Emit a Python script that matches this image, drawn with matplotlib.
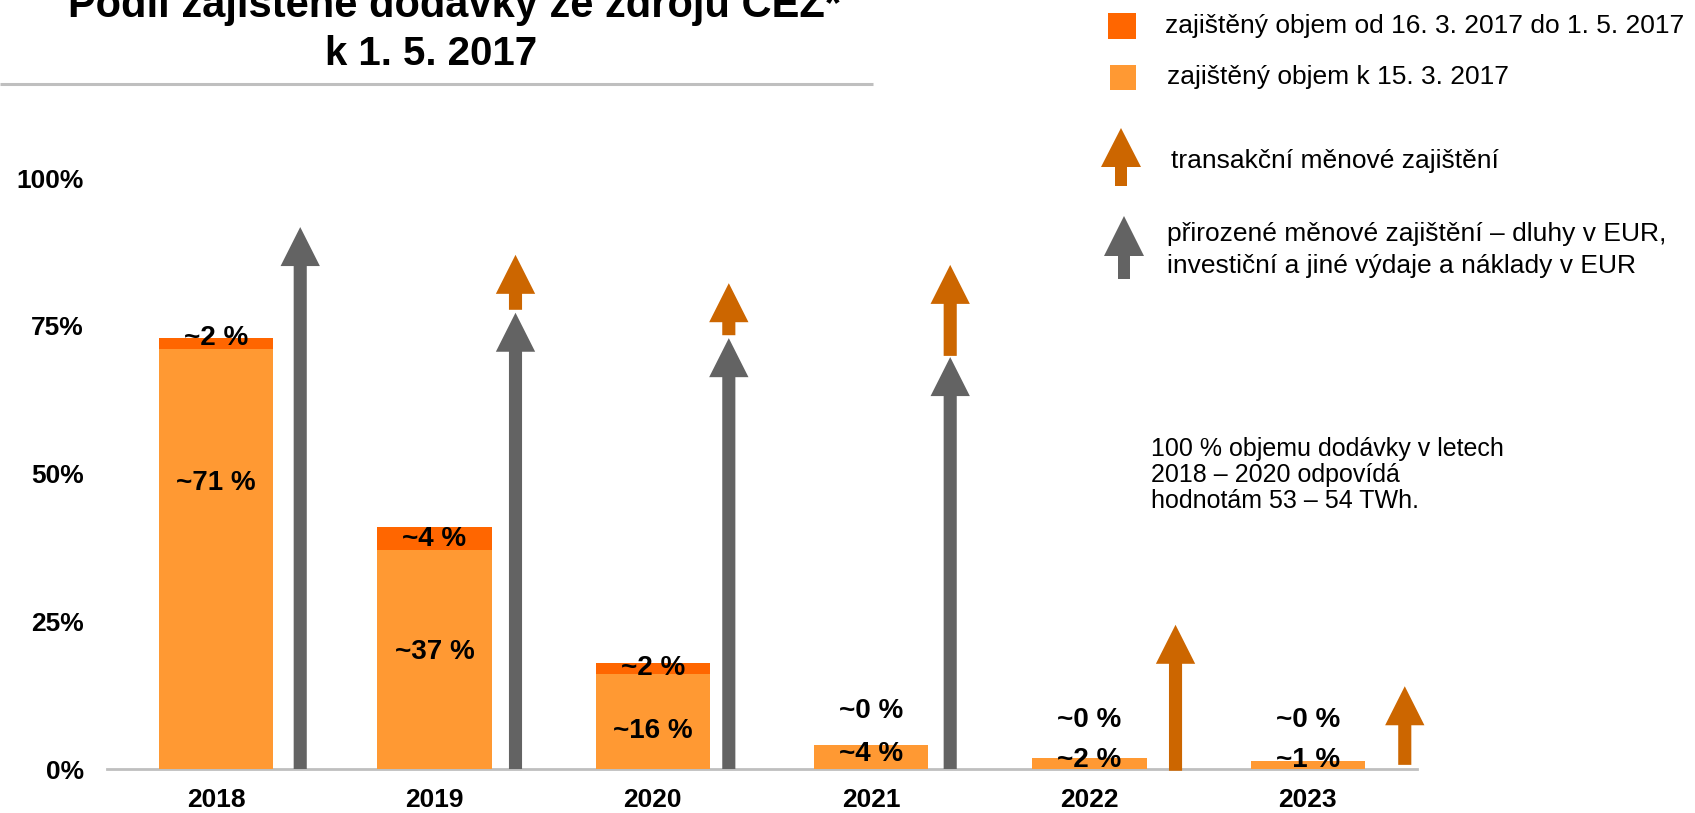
import numpy as np
import matplotlib
matplotlib.use("Agg")
import matplotlib.pyplot as plt

plt.rcParams['font.family'] = ['Liberation Sans', 'DejaVu Sans']

# data
years = ['2018', '2019', '2020', '2021', '2022', '2023']
hedged_mar15 = [71, 37, 16, 4, 1.9, 1.35]          # zajištěný objem k 15. 3. 2017
hedged_added = [2, 4, 2, 0, 0, 0]                  # od 16. 3. 2017 do 1. 5. 2017
label_base = ['~71 %', '~37 %', '~16 %', '~4 %', '~2 %', '~1 %']
label_added = ['~2 %', '~4 %', '~2 %', '~0 %', '~0 %', '~0 %']
natural_tip = [91.7, 77.2, 72.9, 69.7, np.nan, np.nan]      # gray arrows, from 0
trans_base = [np.nan, 77.7, 73.4, 69.9, -0.3, 0.7]         # orange arrows
trans_tip = [np.nan, 87.0, 82.2, 85.3, 24.4, 14.0]
yticks = [0, 25, 50, 75, 100]

# layout
label_base_y = [48.4, 19.8, 6.4, 2.6, 1.6, 1.6]
label_added_y = [72.9, 38.9, 17.1, 9.8, 8.3, 8.3]
arrow_dx = [0.385, 0.371, 0.348, 0.362, 0.394, 0.444]

c_light = '#FF9933'
c_dark = '#FF6600'
c_orange = '#CC6600'
c_gray = '#636363'
c_line = '#BFBFBF'

W, H = 1695, 813
fig = plt.figure(figsize=(W / 100, H / 100), dpi=100)


def fx(px):
    return px / W


def fy(py):
    return 1 - py / H


ax = fig.add_axes([fx(107), fy(769), (1417 - 107) / W, (769 - 178) / H])
x = np.arange(len(years))
ax.bar(x, hedged_mar15, width=0.523, color=c_light, zorder=2)
ax.bar(x, hedged_added, width=0.523, bottom=hedged_mar15, color=c_dark, zorder=2)

for i in range(len(years)):
    ax.text(x[i], label_base_y[i], label_base[i], ha='center', va='center',
            fontsize=20, fontweight='bold', zorder=5)
    ax.text(x[i], label_added_y[i], label_added[i], ha='center', va='center',
            fontsize=20, fontweight='bold', zorder=5)
    ax_x = x[i] + arrow_dx[i]
    if not np.isnan(natural_tip[i]):
        ax.arrow(ax_x, 0, 0, natural_tip[i], width=0.06, head_width=0.18,
                 head_length=6.6, length_includes_head=True, color=c_gray,
                 lw=0, zorder=3, clip_on=False)
    if not np.isnan(trans_tip[i]):
        ax.arrow(ax_x, trans_base[i], 0, trans_tip[i] - trans_base[i], width=0.06,
                 head_width=0.18, head_length=6.6, length_includes_head=True,
                 color=c_orange, lw=0, zorder=3, clip_on=False)

ax.set_xlim(-0.5, 5.5)
ax.set_ylim(0, 100)
ax.set_yticks(yticks)
ax.set_yticklabels([f'{t}%' for t in yticks], fontsize=19, fontweight='bold')
ax.set_xticks(x)
ax.set_xticklabels(years, fontsize=19, fontweight='bold')
ax.tick_params(length=0, axis='y', pad=16.5)
ax.tick_params(length=0, axis='x', pad=14)
for s in ['top', 'right', 'left']:
    ax.spines[s].set_visible(False)
ax.spines['bottom'].set_color(c_line)
ax.spines['bottom'].set_linewidth(2)
ax.spines['bottom'].set_zorder(1)

# title
fig.text(fx(455), fy(17), 'Podíl zajištěné dodávky ze zdrojů ČEZ*', ha='center',
         va='baseline', fontsize=30, fontweight='bold')
fig.text(fx(431), fy(65), 'k 1. 5. 2017', ha='center', va='baseline',
         fontsize=29, fontweight='bold')

# overlay in pixel coordinates for legend and decorations
ov = fig.add_axes([0, 0, 1, 1], zorder=10)
ov.set_xlim(0, W)
ov.set_ylim(H, 0)
ov.axis('off')
ov.plot([0, 873], [84, 84], color=c_line, lw=2.2, solid_capstyle='butt')

ov.add_patch(plt.Rectangle((1108, 13), 28, 26, color=c_dark, lw=0))
ov.add_patch(plt.Rectangle((1110, 65), 26, 25, color=c_light, lw=0))
ov.arrow(1121, 186, 0, -58, width=12, head_width=40, head_length=39,
         length_includes_head=True, color=c_orange, lw=0)
ov.arrow(1124, 279, 0, -63, width=12, head_width=40, head_length=40,
         length_includes_head=True, color=c_gray, lw=0)

ov.text(1165, 26, 'zajištěný objem od 16. 3. 2017 do 1. 5. 2017', ha='left',
        va='center', fontsize=19)
ov.text(1167, 77, 'zajištěný objem k 15. 3. 2017', ha='left', va='center', fontsize=19)
ov.text(1171, 161, 'transakční měnové zajištění', ha='left', va='center', fontsize=19)
ov.text(1167, 250, 'přirozené měnové zajištění – dluhy v EUR,\n'
        'investiční a jiné výdaje a náklady v EUR', ha='left', va='center',
        fontsize=19, linespacing=1.4)

ov.text(1151, 508, '100 % objemu dodávky v letech\n2018 – 2020 odpovídá\n'
        'hodnotám 53 – 54 TWh.', ha='left', va='baseline', fontsize=18,
        linespacing=1.1)

fig.savefig('out.png', dpi=100)
